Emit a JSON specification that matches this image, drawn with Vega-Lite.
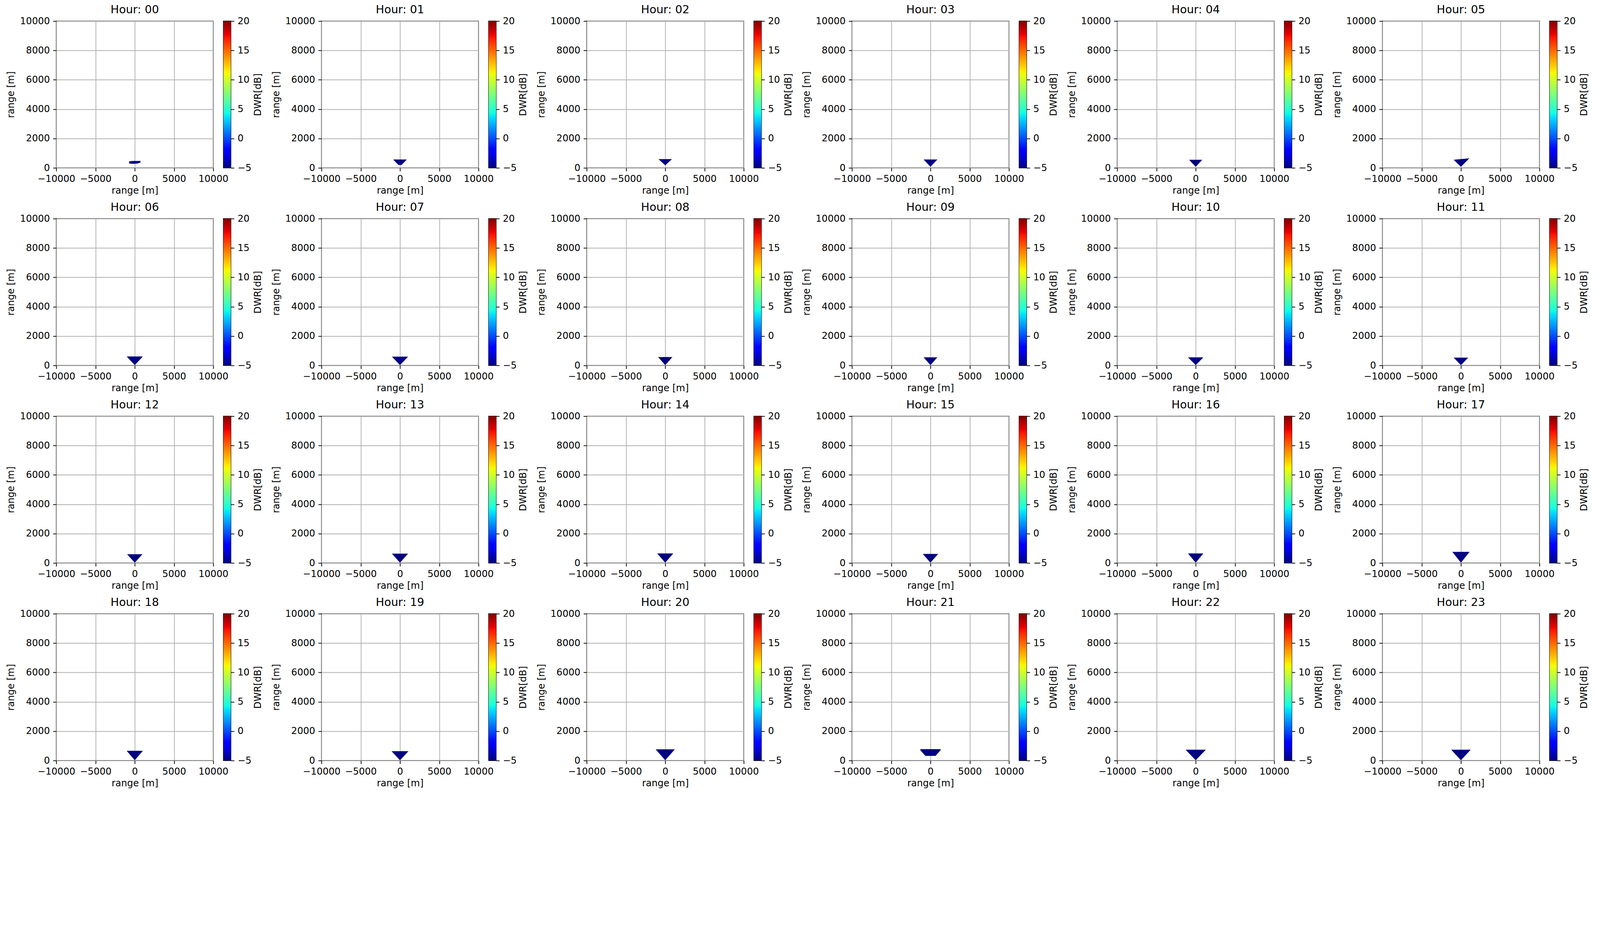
{
"$schema": "https://vega.github.io/schema/vega-lite/v6.json",
"background": "white",
"padding": {"left": 15, "top": 10, "right": 5, "bottom": 5},
"config": {
  "font": "DejaVu Sans",
  "view": {"stroke": "black", "strokeWidth": 1.9},
  "axis": {"labelFontSize": 24, "titleFontSize": 24, "labelColor": "black", "titleColor": "black", "titleFontWeight": "normal", "tickColor": "black", "tickWidth": 1.9, "tickSize": 8.4, "labelPadding": 8.4, "domain": false, "gridColor": "#b0b0b0", "gridWidth": 1.9, "gridOpacity": 1, "labelFlush": false, "labelOverlap": false, "zindex": 1},
  "title": {"fontSize": 28.7, "fontWeight": "normal", "color": "black", "offset": 2.3, "baseline": "alphabetic", "anchor": "middle", "frame": "group"}
},
"datasets": {
  "cbar": [{"lo": -5, "hi": 20}],
  "fans": [
    {"hour": "00", "x": -720, "top": 440, "bottom": 300, "dwr": -5},
    {"hour": "00", "x": -300, "top": 470, "bottom": 280, "dwr": -5},
    {"hour": "00", "x": 300, "top": 470, "bottom": 290, "dwr": -5},
    {"hour": "00", "x": 720, "top": 480, "bottom": 360, "dwr": -5},
    {"hour": "01", "x": -850, "top": 575, "bottom": 560, "dwr": -5},
    {"hour": "01", "x": -200, "top": 575, "bottom": 200, "dwr": -5},
    {"hour": "01", "x": 200, "top": 575, "bottom": 200, "dwr": -5},
    {"hour": "01", "x": 850, "top": 575, "bottom": 560, "dwr": -5},
    {"hour": "02", "x": -860, "top": 600, "bottom": 600, "dwr": -5},
    {"hour": "02", "x": 0, "top": 600, "bottom": 170, "dwr": -5},
    {"hour": "02", "x": 860, "top": 600, "bottom": 600, "dwr": -5},
    {"hour": "03", "x": -880, "top": 575, "bottom": 575, "dwr": -5},
    {"hour": "03", "x": 0, "top": 575, "bottom": 70, "dwr": -5},
    {"hour": "03", "x": 880, "top": 575, "bottom": 575, "dwr": -5},
    {"hour": "04", "x": -840, "top": 550, "bottom": 550, "dwr": -5},
    {"hour": "04", "x": 0, "top": 550, "bottom": 70, "dwr": -5},
    {"hour": "04", "x": 840, "top": 550, "bottom": 550, "dwr": -5},
    {"hour": "05", "x": -930, "top": 550, "bottom": 550, "dwr": -5},
    {"hour": "05", "x": 0, "top": 600, "bottom": 70, "dwr": -5},
    {"hour": "05", "x": 1070, "top": 650, "bottom": 650, "dwr": -5},
    {"hour": "06", "x": -1030, "top": 610, "bottom": 610, "dwr": -5},
    {"hour": "06", "x": 0, "top": 610, "bottom": 20, "dwr": -5},
    {"hour": "06", "x": 1030, "top": 610, "bottom": 610, "dwr": -5},
    {"hour": "07", "x": -1030, "top": 600, "bottom": 600, "dwr": -5},
    {"hour": "07", "x": 0, "top": 600, "bottom": 20, "dwr": -5},
    {"hour": "07", "x": 1030, "top": 600, "bottom": 600, "dwr": -5},
    {"hour": "08", "x": -910, "top": 575, "bottom": 575, "dwr": -5},
    {"hour": "08", "x": 0, "top": 575, "bottom": 20, "dwr": -5},
    {"hour": "08", "x": 910, "top": 575, "bottom": 575, "dwr": -5},
    {"hour": "09", "x": -880, "top": 550, "bottom": 550, "dwr": -5},
    {"hour": "09", "x": 0, "top": 550, "bottom": 20, "dwr": -5},
    {"hour": "09", "x": 880, "top": 550, "bottom": 550, "dwr": -5},
    {"hour": "10", "x": -980, "top": 550, "bottom": 550, "dwr": -5},
    {"hour": "10", "x": 0, "top": 550, "bottom": 20, "dwr": -5},
    {"hour": "10", "x": 980, "top": 550, "bottom": 550, "dwr": -5},
    {"hour": "11", "x": -930, "top": 530, "bottom": 530, "dwr": -5},
    {"hour": "11", "x": 0, "top": 530, "bottom": 20, "dwr": -5},
    {"hour": "11", "x": 930, "top": 530, "bottom": 530, "dwr": -5},
    {"hour": "12", "x": -980, "top": 600, "bottom": 600, "dwr": -5},
    {"hour": "12", "x": 0, "top": 600, "bottom": 20, "dwr": -5},
    {"hour": "12", "x": 980, "top": 600, "bottom": 600, "dwr": -5},
    {"hour": "13", "x": -1030, "top": 635, "bottom": 635, "dwr": -5},
    {"hour": "13", "x": 0, "top": 635, "bottom": 20, "dwr": -5},
    {"hour": "13", "x": 1030, "top": 635, "bottom": 635, "dwr": -5},
    {"hour": "14", "x": -1030, "top": 650, "bottom": 650, "dwr": -5},
    {"hour": "14", "x": 0, "top": 650, "bottom": 20, "dwr": -5},
    {"hour": "14", "x": 1030, "top": 650, "bottom": 650, "dwr": -5},
    {"hour": "15", "x": -980, "top": 620, "bottom": 620, "dwr": -5},
    {"hour": "15", "x": 0, "top": 620, "bottom": 20, "dwr": -5},
    {"hour": "15", "x": 980, "top": 620, "bottom": 620, "dwr": -5},
    {"hour": "16", "x": -980, "top": 650, "bottom": 650, "dwr": -5},
    {"hour": "16", "x": 0, "top": 650, "bottom": 20, "dwr": -5},
    {"hour": "16", "x": 980, "top": 650, "bottom": 650, "dwr": -5},
    {"hour": "17", "x": -1100, "top": 760, "bottom": 760, "dwr": -5},
    {"hour": "17", "x": 0, "top": 760, "bottom": 20, "dwr": -5},
    {"hour": "17", "x": 1100, "top": 760, "bottom": 760, "dwr": -5},
    {"hour": "18", "x": -1030, "top": 665, "bottom": 665, "dwr": -5},
    {"hour": "18", "x": 0, "top": 665, "bottom": 20, "dwr": -5},
    {"hour": "18", "x": 1030, "top": 665, "bottom": 665, "dwr": -5},
    {"hour": "19", "x": -1080, "top": 640, "bottom": 640, "dwr": -5},
    {"hour": "19", "x": 0, "top": 640, "bottom": 20, "dwr": -5},
    {"hour": "19", "x": 1080, "top": 640, "bottom": 640, "dwr": -5},
    {"hour": "20", "x": -1220, "top": 765, "bottom": 765, "dwr": -5},
    {"hour": "20", "x": 0, "top": 765, "bottom": 20, "dwr": -5},
    {"hour": "20", "x": 1220, "top": 765, "bottom": 765, "dwr": -5},
    {"hour": "21", "x": -1280, "top": 780, "bottom": 700, "dwr": -5},
    {"hour": "21", "x": -650, "top": 780, "bottom": 320, "dwr": -5},
    {"hour": "21", "x": 650, "top": 780, "bottom": 320, "dwr": -5},
    {"hour": "21", "x": 1280, "top": 780, "bottom": 700, "dwr": -5},
    {"hour": "22", "x": -1290, "top": 740, "bottom": 740, "dwr": -5},
    {"hour": "22", "x": 0, "top": 740, "bottom": 20, "dwr": -5},
    {"hour": "22", "x": 1290, "top": 740, "bottom": 740, "dwr": -5},
    {"hour": "23", "x": -1240, "top": 740, "bottom": 740, "dwr": -5},
    {"hour": "23", "x": 0, "top": 740, "bottom": 20, "dwr": -5},
    {"hour": "23", "x": 1240, "top": 740, "bottom": 740, "dwr": -5}
  ]
},
"columns": 6,
"spacing": {"row": 14, "column": 20},
"resolve": {"scale": {"x": "independent", "y": "independent"}},
"concat": [
{"bounds":"flush","spacing":26,"resolve":{"scale":{"x":"independent","y":"independent"}},"hconcat":[{"width":402,"height":376,"title":"Hour: 00","data":{"name":"fans"},"transform":[{"filter":"datum.hour === '00'"}],"mark":{"type":"area","orient":"vertical"},"encoding":{"x":{"field":"x","type":"quantitative","scale":{"domain":[-10000,10000],"nice":false},"axis":{"values":[-10000,-5000,0,5000,10000],"format":"d","title":"range [m]","titlePadding":6}},"y":{"field":"top","type":"quantitative","scale":{"domain":[0,10000],"nice":false},"axis":{"values":[0,2000,4000,6000,8000,10000],"format":"d","title":"range [m]","titlePadding":10}},"y2":{"field":"bottom"},"color":{"field":"dwr","type":"quantitative","scale":{"domain":[-5,-2.25,-1.875,3.5,3.75,4.375,11,11.25,11.5,17.25,17.75,20],"range":["#000080","#0000ff","#0000ff","#00dbff","#00e5f7","#15ffe2","#eeff08","#f7f500","#ffec00","#ff1300","#e80000","#800000"]},"legend":null}}},{"width":19,"height":376,"data":{"name":"cbar"},"mark":{"type":"rect","color":{"gradient":"linear","x1":0,"y1":1,"x2":0,"y2":0,"stops":[{"offset":0,"color":"#000080"},{"offset":0.11,"color":"#0000ff"},{"offset":0.125,"color":"#0000ff"},{"offset":0.34,"color":"#00dbff"},{"offset":0.35,"color":"#00e5f7"},{"offset":0.375,"color":"#15ffe2"},{"offset":0.64,"color":"#eeff08"},{"offset":0.65,"color":"#f7f500"},{"offset":0.66,"color":"#ffec00"},{"offset":0.89,"color":"#ff1300"},{"offset":0.91,"color":"#e80000"},{"offset":1,"color":"#800000"}]}},"encoding":{"x":{"datum":0,"type":"quantitative","scale":{"domain":[0,1],"nice":false},"axis":null},"x2":{"datum":1},"y":{"field":"lo","type":"quantitative","scale":{"domain":[-5,20],"nice":false,"zero":false},"axis":{"orient":"right","values":[-5,0,5,10,15,20],"format":"d","title":"DWR[dB]","titleAngle":270,"titleBaseline":"top","titlePadding":5,"grid":false}},"y2":{"field":"hi"}}}]},
{"bounds":"flush","spacing":26,"resolve":{"scale":{"x":"independent","y":"independent"}},"hconcat":[{"width":402,"height":376,"title":"Hour: 01","data":{"name":"fans"},"transform":[{"filter":"datum.hour === '01'"}],"mark":{"type":"area","orient":"vertical"},"encoding":{"x":{"field":"x","type":"quantitative","scale":{"domain":[-10000,10000],"nice":false},"axis":{"values":[-10000,-5000,0,5000,10000],"format":"d","title":"range [m]","titlePadding":6}},"y":{"field":"top","type":"quantitative","scale":{"domain":[0,10000],"nice":false},"axis":{"values":[0,2000,4000,6000,8000,10000],"format":"d","title":"range [m]","titlePadding":10}},"y2":{"field":"bottom"},"color":{"field":"dwr","type":"quantitative","scale":{"domain":[-5,-2.25,-1.875,3.5,3.75,4.375,11,11.25,11.5,17.25,17.75,20],"range":["#000080","#0000ff","#0000ff","#00dbff","#00e5f7","#15ffe2","#eeff08","#f7f500","#ffec00","#ff1300","#e80000","#800000"]},"legend":null}}},{"width":19,"height":376,"data":{"name":"cbar"},"mark":{"type":"rect","color":{"gradient":"linear","x1":0,"y1":1,"x2":0,"y2":0,"stops":[{"offset":0,"color":"#000080"},{"offset":0.11,"color":"#0000ff"},{"offset":0.125,"color":"#0000ff"},{"offset":0.34,"color":"#00dbff"},{"offset":0.35,"color":"#00e5f7"},{"offset":0.375,"color":"#15ffe2"},{"offset":0.64,"color":"#eeff08"},{"offset":0.65,"color":"#f7f500"},{"offset":0.66,"color":"#ffec00"},{"offset":0.89,"color":"#ff1300"},{"offset":0.91,"color":"#e80000"},{"offset":1,"color":"#800000"}]}},"encoding":{"x":{"datum":0,"type":"quantitative","scale":{"domain":[0,1],"nice":false},"axis":null},"x2":{"datum":1},"y":{"field":"lo","type":"quantitative","scale":{"domain":[-5,20],"nice":false,"zero":false},"axis":{"orient":"right","values":[-5,0,5,10,15,20],"format":"d","title":"DWR[dB]","titleAngle":270,"titleBaseline":"top","titlePadding":5,"grid":false}},"y2":{"field":"hi"}}}]},
{"bounds":"flush","spacing":26,"resolve":{"scale":{"x":"independent","y":"independent"}},"hconcat":[{"width":402,"height":376,"title":"Hour: 02","data":{"name":"fans"},"transform":[{"filter":"datum.hour === '02'"}],"mark":{"type":"area","orient":"vertical"},"encoding":{"x":{"field":"x","type":"quantitative","scale":{"domain":[-10000,10000],"nice":false},"axis":{"values":[-10000,-5000,0,5000,10000],"format":"d","title":"range [m]","titlePadding":6}},"y":{"field":"top","type":"quantitative","scale":{"domain":[0,10000],"nice":false},"axis":{"values":[0,2000,4000,6000,8000,10000],"format":"d","title":"range [m]","titlePadding":10}},"y2":{"field":"bottom"},"color":{"field":"dwr","type":"quantitative","scale":{"domain":[-5,-2.25,-1.875,3.5,3.75,4.375,11,11.25,11.5,17.25,17.75,20],"range":["#000080","#0000ff","#0000ff","#00dbff","#00e5f7","#15ffe2","#eeff08","#f7f500","#ffec00","#ff1300","#e80000","#800000"]},"legend":null}}},{"width":19,"height":376,"data":{"name":"cbar"},"mark":{"type":"rect","color":{"gradient":"linear","x1":0,"y1":1,"x2":0,"y2":0,"stops":[{"offset":0,"color":"#000080"},{"offset":0.11,"color":"#0000ff"},{"offset":0.125,"color":"#0000ff"},{"offset":0.34,"color":"#00dbff"},{"offset":0.35,"color":"#00e5f7"},{"offset":0.375,"color":"#15ffe2"},{"offset":0.64,"color":"#eeff08"},{"offset":0.65,"color":"#f7f500"},{"offset":0.66,"color":"#ffec00"},{"offset":0.89,"color":"#ff1300"},{"offset":0.91,"color":"#e80000"},{"offset":1,"color":"#800000"}]}},"encoding":{"x":{"datum":0,"type":"quantitative","scale":{"domain":[0,1],"nice":false},"axis":null},"x2":{"datum":1},"y":{"field":"lo","type":"quantitative","scale":{"domain":[-5,20],"nice":false,"zero":false},"axis":{"orient":"right","values":[-5,0,5,10,15,20],"format":"d","title":"DWR[dB]","titleAngle":270,"titleBaseline":"top","titlePadding":5,"grid":false}},"y2":{"field":"hi"}}}]},
{"bounds":"flush","spacing":26,"resolve":{"scale":{"x":"independent","y":"independent"}},"hconcat":[{"width":402,"height":376,"title":"Hour: 03","data":{"name":"fans"},"transform":[{"filter":"datum.hour === '03'"}],"mark":{"type":"area","orient":"vertical"},"encoding":{"x":{"field":"x","type":"quantitative","scale":{"domain":[-10000,10000],"nice":false},"axis":{"values":[-10000,-5000,0,5000,10000],"format":"d","title":"range [m]","titlePadding":6}},"y":{"field":"top","type":"quantitative","scale":{"domain":[0,10000],"nice":false},"axis":{"values":[0,2000,4000,6000,8000,10000],"format":"d","title":"range [m]","titlePadding":10}},"y2":{"field":"bottom"},"color":{"field":"dwr","type":"quantitative","scale":{"domain":[-5,-2.25,-1.875,3.5,3.75,4.375,11,11.25,11.5,17.25,17.75,20],"range":["#000080","#0000ff","#0000ff","#00dbff","#00e5f7","#15ffe2","#eeff08","#f7f500","#ffec00","#ff1300","#e80000","#800000"]},"legend":null}}},{"width":19,"height":376,"data":{"name":"cbar"},"mark":{"type":"rect","color":{"gradient":"linear","x1":0,"y1":1,"x2":0,"y2":0,"stops":[{"offset":0,"color":"#000080"},{"offset":0.11,"color":"#0000ff"},{"offset":0.125,"color":"#0000ff"},{"offset":0.34,"color":"#00dbff"},{"offset":0.35,"color":"#00e5f7"},{"offset":0.375,"color":"#15ffe2"},{"offset":0.64,"color":"#eeff08"},{"offset":0.65,"color":"#f7f500"},{"offset":0.66,"color":"#ffec00"},{"offset":0.89,"color":"#ff1300"},{"offset":0.91,"color":"#e80000"},{"offset":1,"color":"#800000"}]}},"encoding":{"x":{"datum":0,"type":"quantitative","scale":{"domain":[0,1],"nice":false},"axis":null},"x2":{"datum":1},"y":{"field":"lo","type":"quantitative","scale":{"domain":[-5,20],"nice":false,"zero":false},"axis":{"orient":"right","values":[-5,0,5,10,15,20],"format":"d","title":"DWR[dB]","titleAngle":270,"titleBaseline":"top","titlePadding":5,"grid":false}},"y2":{"field":"hi"}}}]},
{"bounds":"flush","spacing":26,"resolve":{"scale":{"x":"independent","y":"independent"}},"hconcat":[{"width":402,"height":376,"title":"Hour: 04","data":{"name":"fans"},"transform":[{"filter":"datum.hour === '04'"}],"mark":{"type":"area","orient":"vertical"},"encoding":{"x":{"field":"x","type":"quantitative","scale":{"domain":[-10000,10000],"nice":false},"axis":{"values":[-10000,-5000,0,5000,10000],"format":"d","title":"range [m]","titlePadding":6}},"y":{"field":"top","type":"quantitative","scale":{"domain":[0,10000],"nice":false},"axis":{"values":[0,2000,4000,6000,8000,10000],"format":"d","title":"range [m]","titlePadding":10}},"y2":{"field":"bottom"},"color":{"field":"dwr","type":"quantitative","scale":{"domain":[-5,-2.25,-1.875,3.5,3.75,4.375,11,11.25,11.5,17.25,17.75,20],"range":["#000080","#0000ff","#0000ff","#00dbff","#00e5f7","#15ffe2","#eeff08","#f7f500","#ffec00","#ff1300","#e80000","#800000"]},"legend":null}}},{"width":19,"height":376,"data":{"name":"cbar"},"mark":{"type":"rect","color":{"gradient":"linear","x1":0,"y1":1,"x2":0,"y2":0,"stops":[{"offset":0,"color":"#000080"},{"offset":0.11,"color":"#0000ff"},{"offset":0.125,"color":"#0000ff"},{"offset":0.34,"color":"#00dbff"},{"offset":0.35,"color":"#00e5f7"},{"offset":0.375,"color":"#15ffe2"},{"offset":0.64,"color":"#eeff08"},{"offset":0.65,"color":"#f7f500"},{"offset":0.66,"color":"#ffec00"},{"offset":0.89,"color":"#ff1300"},{"offset":0.91,"color":"#e80000"},{"offset":1,"color":"#800000"}]}},"encoding":{"x":{"datum":0,"type":"quantitative","scale":{"domain":[0,1],"nice":false},"axis":null},"x2":{"datum":1},"y":{"field":"lo","type":"quantitative","scale":{"domain":[-5,20],"nice":false,"zero":false},"axis":{"orient":"right","values":[-5,0,5,10,15,20],"format":"d","title":"DWR[dB]","titleAngle":270,"titleBaseline":"top","titlePadding":5,"grid":false}},"y2":{"field":"hi"}}}]},
{"bounds":"flush","spacing":26,"resolve":{"scale":{"x":"independent","y":"independent"}},"hconcat":[{"width":402,"height":376,"title":"Hour: 05","data":{"name":"fans"},"transform":[{"filter":"datum.hour === '05'"}],"mark":{"type":"area","orient":"vertical"},"encoding":{"x":{"field":"x","type":"quantitative","scale":{"domain":[-10000,10000],"nice":false},"axis":{"values":[-10000,-5000,0,5000,10000],"format":"d","title":"range [m]","titlePadding":6}},"y":{"field":"top","type":"quantitative","scale":{"domain":[0,10000],"nice":false},"axis":{"values":[0,2000,4000,6000,8000,10000],"format":"d","title":"range [m]","titlePadding":10}},"y2":{"field":"bottom"},"color":{"field":"dwr","type":"quantitative","scale":{"domain":[-5,-2.25,-1.875,3.5,3.75,4.375,11,11.25,11.5,17.25,17.75,20],"range":["#000080","#0000ff","#0000ff","#00dbff","#00e5f7","#15ffe2","#eeff08","#f7f500","#ffec00","#ff1300","#e80000","#800000"]},"legend":null}}},{"width":19,"height":376,"data":{"name":"cbar"},"mark":{"type":"rect","color":{"gradient":"linear","x1":0,"y1":1,"x2":0,"y2":0,"stops":[{"offset":0,"color":"#000080"},{"offset":0.11,"color":"#0000ff"},{"offset":0.125,"color":"#0000ff"},{"offset":0.34,"color":"#00dbff"},{"offset":0.35,"color":"#00e5f7"},{"offset":0.375,"color":"#15ffe2"},{"offset":0.64,"color":"#eeff08"},{"offset":0.65,"color":"#f7f500"},{"offset":0.66,"color":"#ffec00"},{"offset":0.89,"color":"#ff1300"},{"offset":0.91,"color":"#e80000"},{"offset":1,"color":"#800000"}]}},"encoding":{"x":{"datum":0,"type":"quantitative","scale":{"domain":[0,1],"nice":false},"axis":null},"x2":{"datum":1},"y":{"field":"lo","type":"quantitative","scale":{"domain":[-5,20],"nice":false,"zero":false},"axis":{"orient":"right","values":[-5,0,5,10,15,20],"format":"d","title":"DWR[dB]","titleAngle":270,"titleBaseline":"top","titlePadding":5,"grid":false}},"y2":{"field":"hi"}}}]},
{"bounds":"flush","spacing":26,"resolve":{"scale":{"x":"independent","y":"independent"}},"hconcat":[{"width":402,"height":376,"title":"Hour: 06","data":{"name":"fans"},"transform":[{"filter":"datum.hour === '06'"}],"mark":{"type":"area","orient":"vertical"},"encoding":{"x":{"field":"x","type":"quantitative","scale":{"domain":[-10000,10000],"nice":false},"axis":{"values":[-10000,-5000,0,5000,10000],"format":"d","title":"range [m]","titlePadding":6}},"y":{"field":"top","type":"quantitative","scale":{"domain":[0,10000],"nice":false},"axis":{"values":[0,2000,4000,6000,8000,10000],"format":"d","title":"range [m]","titlePadding":10}},"y2":{"field":"bottom"},"color":{"field":"dwr","type":"quantitative","scale":{"domain":[-5,-2.25,-1.875,3.5,3.75,4.375,11,11.25,11.5,17.25,17.75,20],"range":["#000080","#0000ff","#0000ff","#00dbff","#00e5f7","#15ffe2","#eeff08","#f7f500","#ffec00","#ff1300","#e80000","#800000"]},"legend":null}}},{"width":19,"height":376,"data":{"name":"cbar"},"mark":{"type":"rect","color":{"gradient":"linear","x1":0,"y1":1,"x2":0,"y2":0,"stops":[{"offset":0,"color":"#000080"},{"offset":0.11,"color":"#0000ff"},{"offset":0.125,"color":"#0000ff"},{"offset":0.34,"color":"#00dbff"},{"offset":0.35,"color":"#00e5f7"},{"offset":0.375,"color":"#15ffe2"},{"offset":0.64,"color":"#eeff08"},{"offset":0.65,"color":"#f7f500"},{"offset":0.66,"color":"#ffec00"},{"offset":0.89,"color":"#ff1300"},{"offset":0.91,"color":"#e80000"},{"offset":1,"color":"#800000"}]}},"encoding":{"x":{"datum":0,"type":"quantitative","scale":{"domain":[0,1],"nice":false},"axis":null},"x2":{"datum":1},"y":{"field":"lo","type":"quantitative","scale":{"domain":[-5,20],"nice":false,"zero":false},"axis":{"orient":"right","values":[-5,0,5,10,15,20],"format":"d","title":"DWR[dB]","titleAngle":270,"titleBaseline":"top","titlePadding":5,"grid":false}},"y2":{"field":"hi"}}}]},
{"bounds":"flush","spacing":26,"resolve":{"scale":{"x":"independent","y":"independent"}},"hconcat":[{"width":402,"height":376,"title":"Hour: 07","data":{"name":"fans"},"transform":[{"filter":"datum.hour === '07'"}],"mark":{"type":"area","orient":"vertical"},"encoding":{"x":{"field":"x","type":"quantitative","scale":{"domain":[-10000,10000],"nice":false},"axis":{"values":[-10000,-5000,0,5000,10000],"format":"d","title":"range [m]","titlePadding":6}},"y":{"field":"top","type":"quantitative","scale":{"domain":[0,10000],"nice":false},"axis":{"values":[0,2000,4000,6000,8000,10000],"format":"d","title":"range [m]","titlePadding":10}},"y2":{"field":"bottom"},"color":{"field":"dwr","type":"quantitative","scale":{"domain":[-5,-2.25,-1.875,3.5,3.75,4.375,11,11.25,11.5,17.25,17.75,20],"range":["#000080","#0000ff","#0000ff","#00dbff","#00e5f7","#15ffe2","#eeff08","#f7f500","#ffec00","#ff1300","#e80000","#800000"]},"legend":null}}},{"width":19,"height":376,"data":{"name":"cbar"},"mark":{"type":"rect","color":{"gradient":"linear","x1":0,"y1":1,"x2":0,"y2":0,"stops":[{"offset":0,"color":"#000080"},{"offset":0.11,"color":"#0000ff"},{"offset":0.125,"color":"#0000ff"},{"offset":0.34,"color":"#00dbff"},{"offset":0.35,"color":"#00e5f7"},{"offset":0.375,"color":"#15ffe2"},{"offset":0.64,"color":"#eeff08"},{"offset":0.65,"color":"#f7f500"},{"offset":0.66,"color":"#ffec00"},{"offset":0.89,"color":"#ff1300"},{"offset":0.91,"color":"#e80000"},{"offset":1,"color":"#800000"}]}},"encoding":{"x":{"datum":0,"type":"quantitative","scale":{"domain":[0,1],"nice":false},"axis":null},"x2":{"datum":1},"y":{"field":"lo","type":"quantitative","scale":{"domain":[-5,20],"nice":false,"zero":false},"axis":{"orient":"right","values":[-5,0,5,10,15,20],"format":"d","title":"DWR[dB]","titleAngle":270,"titleBaseline":"top","titlePadding":5,"grid":false}},"y2":{"field":"hi"}}}]},
{"bounds":"flush","spacing":26,"resolve":{"scale":{"x":"independent","y":"independent"}},"hconcat":[{"width":402,"height":376,"title":"Hour: 08","data":{"name":"fans"},"transform":[{"filter":"datum.hour === '08'"}],"mark":{"type":"area","orient":"vertical"},"encoding":{"x":{"field":"x","type":"quantitative","scale":{"domain":[-10000,10000],"nice":false},"axis":{"values":[-10000,-5000,0,5000,10000],"format":"d","title":"range [m]","titlePadding":6}},"y":{"field":"top","type":"quantitative","scale":{"domain":[0,10000],"nice":false},"axis":{"values":[0,2000,4000,6000,8000,10000],"format":"d","title":"range [m]","titlePadding":10}},"y2":{"field":"bottom"},"color":{"field":"dwr","type":"quantitative","scale":{"domain":[-5,-2.25,-1.875,3.5,3.75,4.375,11,11.25,11.5,17.25,17.75,20],"range":["#000080","#0000ff","#0000ff","#00dbff","#00e5f7","#15ffe2","#eeff08","#f7f500","#ffec00","#ff1300","#e80000","#800000"]},"legend":null}}},{"width":19,"height":376,"data":{"name":"cbar"},"mark":{"type":"rect","color":{"gradient":"linear","x1":0,"y1":1,"x2":0,"y2":0,"stops":[{"offset":0,"color":"#000080"},{"offset":0.11,"color":"#0000ff"},{"offset":0.125,"color":"#0000ff"},{"offset":0.34,"color":"#00dbff"},{"offset":0.35,"color":"#00e5f7"},{"offset":0.375,"color":"#15ffe2"},{"offset":0.64,"color":"#eeff08"},{"offset":0.65,"color":"#f7f500"},{"offset":0.66,"color":"#ffec00"},{"offset":0.89,"color":"#ff1300"},{"offset":0.91,"color":"#e80000"},{"offset":1,"color":"#800000"}]}},"encoding":{"x":{"datum":0,"type":"quantitative","scale":{"domain":[0,1],"nice":false},"axis":null},"x2":{"datum":1},"y":{"field":"lo","type":"quantitative","scale":{"domain":[-5,20],"nice":false,"zero":false},"axis":{"orient":"right","values":[-5,0,5,10,15,20],"format":"d","title":"DWR[dB]","titleAngle":270,"titleBaseline":"top","titlePadding":5,"grid":false}},"y2":{"field":"hi"}}}]},
{"bounds":"flush","spacing":26,"resolve":{"scale":{"x":"independent","y":"independent"}},"hconcat":[{"width":402,"height":376,"title":"Hour: 09","data":{"name":"fans"},"transform":[{"filter":"datum.hour === '09'"}],"mark":{"type":"area","orient":"vertical"},"encoding":{"x":{"field":"x","type":"quantitative","scale":{"domain":[-10000,10000],"nice":false},"axis":{"values":[-10000,-5000,0,5000,10000],"format":"d","title":"range [m]","titlePadding":6}},"y":{"field":"top","type":"quantitative","scale":{"domain":[0,10000],"nice":false},"axis":{"values":[0,2000,4000,6000,8000,10000],"format":"d","title":"range [m]","titlePadding":10}},"y2":{"field":"bottom"},"color":{"field":"dwr","type":"quantitative","scale":{"domain":[-5,-2.25,-1.875,3.5,3.75,4.375,11,11.25,11.5,17.25,17.75,20],"range":["#000080","#0000ff","#0000ff","#00dbff","#00e5f7","#15ffe2","#eeff08","#f7f500","#ffec00","#ff1300","#e80000","#800000"]},"legend":null}}},{"width":19,"height":376,"data":{"name":"cbar"},"mark":{"type":"rect","color":{"gradient":"linear","x1":0,"y1":1,"x2":0,"y2":0,"stops":[{"offset":0,"color":"#000080"},{"offset":0.11,"color":"#0000ff"},{"offset":0.125,"color":"#0000ff"},{"offset":0.34,"color":"#00dbff"},{"offset":0.35,"color":"#00e5f7"},{"offset":0.375,"color":"#15ffe2"},{"offset":0.64,"color":"#eeff08"},{"offset":0.65,"color":"#f7f500"},{"offset":0.66,"color":"#ffec00"},{"offset":0.89,"color":"#ff1300"},{"offset":0.91,"color":"#e80000"},{"offset":1,"color":"#800000"}]}},"encoding":{"x":{"datum":0,"type":"quantitative","scale":{"domain":[0,1],"nice":false},"axis":null},"x2":{"datum":1},"y":{"field":"lo","type":"quantitative","scale":{"domain":[-5,20],"nice":false,"zero":false},"axis":{"orient":"right","values":[-5,0,5,10,15,20],"format":"d","title":"DWR[dB]","titleAngle":270,"titleBaseline":"top","titlePadding":5,"grid":false}},"y2":{"field":"hi"}}}]},
{"bounds":"flush","spacing":26,"resolve":{"scale":{"x":"independent","y":"independent"}},"hconcat":[{"width":402,"height":376,"title":"Hour: 10","data":{"name":"fans"},"transform":[{"filter":"datum.hour === '10'"}],"mark":{"type":"area","orient":"vertical"},"encoding":{"x":{"field":"x","type":"quantitative","scale":{"domain":[-10000,10000],"nice":false},"axis":{"values":[-10000,-5000,0,5000,10000],"format":"d","title":"range [m]","titlePadding":6}},"y":{"field":"top","type":"quantitative","scale":{"domain":[0,10000],"nice":false},"axis":{"values":[0,2000,4000,6000,8000,10000],"format":"d","title":"range [m]","titlePadding":10}},"y2":{"field":"bottom"},"color":{"field":"dwr","type":"quantitative","scale":{"domain":[-5,-2.25,-1.875,3.5,3.75,4.375,11,11.25,11.5,17.25,17.75,20],"range":["#000080","#0000ff","#0000ff","#00dbff","#00e5f7","#15ffe2","#eeff08","#f7f500","#ffec00","#ff1300","#e80000","#800000"]},"legend":null}}},{"width":19,"height":376,"data":{"name":"cbar"},"mark":{"type":"rect","color":{"gradient":"linear","x1":0,"y1":1,"x2":0,"y2":0,"stops":[{"offset":0,"color":"#000080"},{"offset":0.11,"color":"#0000ff"},{"offset":0.125,"color":"#0000ff"},{"offset":0.34,"color":"#00dbff"},{"offset":0.35,"color":"#00e5f7"},{"offset":0.375,"color":"#15ffe2"},{"offset":0.64,"color":"#eeff08"},{"offset":0.65,"color":"#f7f500"},{"offset":0.66,"color":"#ffec00"},{"offset":0.89,"color":"#ff1300"},{"offset":0.91,"color":"#e80000"},{"offset":1,"color":"#800000"}]}},"encoding":{"x":{"datum":0,"type":"quantitative","scale":{"domain":[0,1],"nice":false},"axis":null},"x2":{"datum":1},"y":{"field":"lo","type":"quantitative","scale":{"domain":[-5,20],"nice":false,"zero":false},"axis":{"orient":"right","values":[-5,0,5,10,15,20],"format":"d","title":"DWR[dB]","titleAngle":270,"titleBaseline":"top","titlePadding":5,"grid":false}},"y2":{"field":"hi"}}}]},
{"bounds":"flush","spacing":26,"resolve":{"scale":{"x":"independent","y":"independent"}},"hconcat":[{"width":402,"height":376,"title":"Hour: 11","data":{"name":"fans"},"transform":[{"filter":"datum.hour === '11'"}],"mark":{"type":"area","orient":"vertical"},"encoding":{"x":{"field":"x","type":"quantitative","scale":{"domain":[-10000,10000],"nice":false},"axis":{"values":[-10000,-5000,0,5000,10000],"format":"d","title":"range [m]","titlePadding":6}},"y":{"field":"top","type":"quantitative","scale":{"domain":[0,10000],"nice":false},"axis":{"values":[0,2000,4000,6000,8000,10000],"format":"d","title":"range [m]","titlePadding":10}},"y2":{"field":"bottom"},"color":{"field":"dwr","type":"quantitative","scale":{"domain":[-5,-2.25,-1.875,3.5,3.75,4.375,11,11.25,11.5,17.25,17.75,20],"range":["#000080","#0000ff","#0000ff","#00dbff","#00e5f7","#15ffe2","#eeff08","#f7f500","#ffec00","#ff1300","#e80000","#800000"]},"legend":null}}},{"width":19,"height":376,"data":{"name":"cbar"},"mark":{"type":"rect","color":{"gradient":"linear","x1":0,"y1":1,"x2":0,"y2":0,"stops":[{"offset":0,"color":"#000080"},{"offset":0.11,"color":"#0000ff"},{"offset":0.125,"color":"#0000ff"},{"offset":0.34,"color":"#00dbff"},{"offset":0.35,"color":"#00e5f7"},{"offset":0.375,"color":"#15ffe2"},{"offset":0.64,"color":"#eeff08"},{"offset":0.65,"color":"#f7f500"},{"offset":0.66,"color":"#ffec00"},{"offset":0.89,"color":"#ff1300"},{"offset":0.91,"color":"#e80000"},{"offset":1,"color":"#800000"}]}},"encoding":{"x":{"datum":0,"type":"quantitative","scale":{"domain":[0,1],"nice":false},"axis":null},"x2":{"datum":1},"y":{"field":"lo","type":"quantitative","scale":{"domain":[-5,20],"nice":false,"zero":false},"axis":{"orient":"right","values":[-5,0,5,10,15,20],"format":"d","title":"DWR[dB]","titleAngle":270,"titleBaseline":"top","titlePadding":5,"grid":false}},"y2":{"field":"hi"}}}]},
{"bounds":"flush","spacing":26,"resolve":{"scale":{"x":"independent","y":"independent"}},"hconcat":[{"width":402,"height":376,"title":"Hour: 12","data":{"name":"fans"},"transform":[{"filter":"datum.hour === '12'"}],"mark":{"type":"area","orient":"vertical"},"encoding":{"x":{"field":"x","type":"quantitative","scale":{"domain":[-10000,10000],"nice":false},"axis":{"values":[-10000,-5000,0,5000,10000],"format":"d","title":"range [m]","titlePadding":6}},"y":{"field":"top","type":"quantitative","scale":{"domain":[0,10000],"nice":false},"axis":{"values":[0,2000,4000,6000,8000,10000],"format":"d","title":"range [m]","titlePadding":10}},"y2":{"field":"bottom"},"color":{"field":"dwr","type":"quantitative","scale":{"domain":[-5,-2.25,-1.875,3.5,3.75,4.375,11,11.25,11.5,17.25,17.75,20],"range":["#000080","#0000ff","#0000ff","#00dbff","#00e5f7","#15ffe2","#eeff08","#f7f500","#ffec00","#ff1300","#e80000","#800000"]},"legend":null}}},{"width":19,"height":376,"data":{"name":"cbar"},"mark":{"type":"rect","color":{"gradient":"linear","x1":0,"y1":1,"x2":0,"y2":0,"stops":[{"offset":0,"color":"#000080"},{"offset":0.11,"color":"#0000ff"},{"offset":0.125,"color":"#0000ff"},{"offset":0.34,"color":"#00dbff"},{"offset":0.35,"color":"#00e5f7"},{"offset":0.375,"color":"#15ffe2"},{"offset":0.64,"color":"#eeff08"},{"offset":0.65,"color":"#f7f500"},{"offset":0.66,"color":"#ffec00"},{"offset":0.89,"color":"#ff1300"},{"offset":0.91,"color":"#e80000"},{"offset":1,"color":"#800000"}]}},"encoding":{"x":{"datum":0,"type":"quantitative","scale":{"domain":[0,1],"nice":false},"axis":null},"x2":{"datum":1},"y":{"field":"lo","type":"quantitative","scale":{"domain":[-5,20],"nice":false,"zero":false},"axis":{"orient":"right","values":[-5,0,5,10,15,20],"format":"d","title":"DWR[dB]","titleAngle":270,"titleBaseline":"top","titlePadding":5,"grid":false}},"y2":{"field":"hi"}}}]},
{"bounds":"flush","spacing":26,"resolve":{"scale":{"x":"independent","y":"independent"}},"hconcat":[{"width":402,"height":376,"title":"Hour: 13","data":{"name":"fans"},"transform":[{"filter":"datum.hour === '13'"}],"mark":{"type":"area","orient":"vertical"},"encoding":{"x":{"field":"x","type":"quantitative","scale":{"domain":[-10000,10000],"nice":false},"axis":{"values":[-10000,-5000,0,5000,10000],"format":"d","title":"range [m]","titlePadding":6}},"y":{"field":"top","type":"quantitative","scale":{"domain":[0,10000],"nice":false},"axis":{"values":[0,2000,4000,6000,8000,10000],"format":"d","title":"range [m]","titlePadding":10}},"y2":{"field":"bottom"},"color":{"field":"dwr","type":"quantitative","scale":{"domain":[-5,-2.25,-1.875,3.5,3.75,4.375,11,11.25,11.5,17.25,17.75,20],"range":["#000080","#0000ff","#0000ff","#00dbff","#00e5f7","#15ffe2","#eeff08","#f7f500","#ffec00","#ff1300","#e80000","#800000"]},"legend":null}}},{"width":19,"height":376,"data":{"name":"cbar"},"mark":{"type":"rect","color":{"gradient":"linear","x1":0,"y1":1,"x2":0,"y2":0,"stops":[{"offset":0,"color":"#000080"},{"offset":0.11,"color":"#0000ff"},{"offset":0.125,"color":"#0000ff"},{"offset":0.34,"color":"#00dbff"},{"offset":0.35,"color":"#00e5f7"},{"offset":0.375,"color":"#15ffe2"},{"offset":0.64,"color":"#eeff08"},{"offset":0.65,"color":"#f7f500"},{"offset":0.66,"color":"#ffec00"},{"offset":0.89,"color":"#ff1300"},{"offset":0.91,"color":"#e80000"},{"offset":1,"color":"#800000"}]}},"encoding":{"x":{"datum":0,"type":"quantitative","scale":{"domain":[0,1],"nice":false},"axis":null},"x2":{"datum":1},"y":{"field":"lo","type":"quantitative","scale":{"domain":[-5,20],"nice":false,"zero":false},"axis":{"orient":"right","values":[-5,0,5,10,15,20],"format":"d","title":"DWR[dB]","titleAngle":270,"titleBaseline":"top","titlePadding":5,"grid":false}},"y2":{"field":"hi"}}}]},
{"bounds":"flush","spacing":26,"resolve":{"scale":{"x":"independent","y":"independent"}},"hconcat":[{"width":402,"height":376,"title":"Hour: 14","data":{"name":"fans"},"transform":[{"filter":"datum.hour === '14'"}],"mark":{"type":"area","orient":"vertical"},"encoding":{"x":{"field":"x","type":"quantitative","scale":{"domain":[-10000,10000],"nice":false},"axis":{"values":[-10000,-5000,0,5000,10000],"format":"d","title":"range [m]","titlePadding":6}},"y":{"field":"top","type":"quantitative","scale":{"domain":[0,10000],"nice":false},"axis":{"values":[0,2000,4000,6000,8000,10000],"format":"d","title":"range [m]","titlePadding":10}},"y2":{"field":"bottom"},"color":{"field":"dwr","type":"quantitative","scale":{"domain":[-5,-2.25,-1.875,3.5,3.75,4.375,11,11.25,11.5,17.25,17.75,20],"range":["#000080","#0000ff","#0000ff","#00dbff","#00e5f7","#15ffe2","#eeff08","#f7f500","#ffec00","#ff1300","#e80000","#800000"]},"legend":null}}},{"width":19,"height":376,"data":{"name":"cbar"},"mark":{"type":"rect","color":{"gradient":"linear","x1":0,"y1":1,"x2":0,"y2":0,"stops":[{"offset":0,"color":"#000080"},{"offset":0.11,"color":"#0000ff"},{"offset":0.125,"color":"#0000ff"},{"offset":0.34,"color":"#00dbff"},{"offset":0.35,"color":"#00e5f7"},{"offset":0.375,"color":"#15ffe2"},{"offset":0.64,"color":"#eeff08"},{"offset":0.65,"color":"#f7f500"},{"offset":0.66,"color":"#ffec00"},{"offset":0.89,"color":"#ff1300"},{"offset":0.91,"color":"#e80000"},{"offset":1,"color":"#800000"}]}},"encoding":{"x":{"datum":0,"type":"quantitative","scale":{"domain":[0,1],"nice":false},"axis":null},"x2":{"datum":1},"y":{"field":"lo","type":"quantitative","scale":{"domain":[-5,20],"nice":false,"zero":false},"axis":{"orient":"right","values":[-5,0,5,10,15,20],"format":"d","title":"DWR[dB]","titleAngle":270,"titleBaseline":"top","titlePadding":5,"grid":false}},"y2":{"field":"hi"}}}]},
{"bounds":"flush","spacing":26,"resolve":{"scale":{"x":"independent","y":"independent"}},"hconcat":[{"width":402,"height":376,"title":"Hour: 15","data":{"name":"fans"},"transform":[{"filter":"datum.hour === '15'"}],"mark":{"type":"area","orient":"vertical"},"encoding":{"x":{"field":"x","type":"quantitative","scale":{"domain":[-10000,10000],"nice":false},"axis":{"values":[-10000,-5000,0,5000,10000],"format":"d","title":"range [m]","titlePadding":6}},"y":{"field":"top","type":"quantitative","scale":{"domain":[0,10000],"nice":false},"axis":{"values":[0,2000,4000,6000,8000,10000],"format":"d","title":"range [m]","titlePadding":10}},"y2":{"field":"bottom"},"color":{"field":"dwr","type":"quantitative","scale":{"domain":[-5,-2.25,-1.875,3.5,3.75,4.375,11,11.25,11.5,17.25,17.75,20],"range":["#000080","#0000ff","#0000ff","#00dbff","#00e5f7","#15ffe2","#eeff08","#f7f500","#ffec00","#ff1300","#e80000","#800000"]},"legend":null}}},{"width":19,"height":376,"data":{"name":"cbar"},"mark":{"type":"rect","color":{"gradient":"linear","x1":0,"y1":1,"x2":0,"y2":0,"stops":[{"offset":0,"color":"#000080"},{"offset":0.11,"color":"#0000ff"},{"offset":0.125,"color":"#0000ff"},{"offset":0.34,"color":"#00dbff"},{"offset":0.35,"color":"#00e5f7"},{"offset":0.375,"color":"#15ffe2"},{"offset":0.64,"color":"#eeff08"},{"offset":0.65,"color":"#f7f500"},{"offset":0.66,"color":"#ffec00"},{"offset":0.89,"color":"#ff1300"},{"offset":0.91,"color":"#e80000"},{"offset":1,"color":"#800000"}]}},"encoding":{"x":{"datum":0,"type":"quantitative","scale":{"domain":[0,1],"nice":false},"axis":null},"x2":{"datum":1},"y":{"field":"lo","type":"quantitative","scale":{"domain":[-5,20],"nice":false,"zero":false},"axis":{"orient":"right","values":[-5,0,5,10,15,20],"format":"d","title":"DWR[dB]","titleAngle":270,"titleBaseline":"top","titlePadding":5,"grid":false}},"y2":{"field":"hi"}}}]},
{"bounds":"flush","spacing":26,"resolve":{"scale":{"x":"independent","y":"independent"}},"hconcat":[{"width":402,"height":376,"title":"Hour: 16","data":{"name":"fans"},"transform":[{"filter":"datum.hour === '16'"}],"mark":{"type":"area","orient":"vertical"},"encoding":{"x":{"field":"x","type":"quantitative","scale":{"domain":[-10000,10000],"nice":false},"axis":{"values":[-10000,-5000,0,5000,10000],"format":"d","title":"range [m]","titlePadding":6}},"y":{"field":"top","type":"quantitative","scale":{"domain":[0,10000],"nice":false},"axis":{"values":[0,2000,4000,6000,8000,10000],"format":"d","title":"range [m]","titlePadding":10}},"y2":{"field":"bottom"},"color":{"field":"dwr","type":"quantitative","scale":{"domain":[-5,-2.25,-1.875,3.5,3.75,4.375,11,11.25,11.5,17.25,17.75,20],"range":["#000080","#0000ff","#0000ff","#00dbff","#00e5f7","#15ffe2","#eeff08","#f7f500","#ffec00","#ff1300","#e80000","#800000"]},"legend":null}}},{"width":19,"height":376,"data":{"name":"cbar"},"mark":{"type":"rect","color":{"gradient":"linear","x1":0,"y1":1,"x2":0,"y2":0,"stops":[{"offset":0,"color":"#000080"},{"offset":0.11,"color":"#0000ff"},{"offset":0.125,"color":"#0000ff"},{"offset":0.34,"color":"#00dbff"},{"offset":0.35,"color":"#00e5f7"},{"offset":0.375,"color":"#15ffe2"},{"offset":0.64,"color":"#eeff08"},{"offset":0.65,"color":"#f7f500"},{"offset":0.66,"color":"#ffec00"},{"offset":0.89,"color":"#ff1300"},{"offset":0.91,"color":"#e80000"},{"offset":1,"color":"#800000"}]}},"encoding":{"x":{"datum":0,"type":"quantitative","scale":{"domain":[0,1],"nice":false},"axis":null},"x2":{"datum":1},"y":{"field":"lo","type":"quantitative","scale":{"domain":[-5,20],"nice":false,"zero":false},"axis":{"orient":"right","values":[-5,0,5,10,15,20],"format":"d","title":"DWR[dB]","titleAngle":270,"titleBaseline":"top","titlePadding":5,"grid":false}},"y2":{"field":"hi"}}}]},
{"bounds":"flush","spacing":26,"resolve":{"scale":{"x":"independent","y":"independent"}},"hconcat":[{"width":402,"height":376,"title":"Hour: 17","data":{"name":"fans"},"transform":[{"filter":"datum.hour === '17'"}],"mark":{"type":"area","orient":"vertical"},"encoding":{"x":{"field":"x","type":"quantitative","scale":{"domain":[-10000,10000],"nice":false},"axis":{"values":[-10000,-5000,0,5000,10000],"format":"d","title":"range [m]","titlePadding":6}},"y":{"field":"top","type":"quantitative","scale":{"domain":[0,10000],"nice":false},"axis":{"values":[0,2000,4000,6000,8000,10000],"format":"d","title":"range [m]","titlePadding":10}},"y2":{"field":"bottom"},"color":{"field":"dwr","type":"quantitative","scale":{"domain":[-5,-2.25,-1.875,3.5,3.75,4.375,11,11.25,11.5,17.25,17.75,20],"range":["#000080","#0000ff","#0000ff","#00dbff","#00e5f7","#15ffe2","#eeff08","#f7f500","#ffec00","#ff1300","#e80000","#800000"]},"legend":null}}},{"width":19,"height":376,"data":{"name":"cbar"},"mark":{"type":"rect","color":{"gradient":"linear","x1":0,"y1":1,"x2":0,"y2":0,"stops":[{"offset":0,"color":"#000080"},{"offset":0.11,"color":"#0000ff"},{"offset":0.125,"color":"#0000ff"},{"offset":0.34,"color":"#00dbff"},{"offset":0.35,"color":"#00e5f7"},{"offset":0.375,"color":"#15ffe2"},{"offset":0.64,"color":"#eeff08"},{"offset":0.65,"color":"#f7f500"},{"offset":0.66,"color":"#ffec00"},{"offset":0.89,"color":"#ff1300"},{"offset":0.91,"color":"#e80000"},{"offset":1,"color":"#800000"}]}},"encoding":{"x":{"datum":0,"type":"quantitative","scale":{"domain":[0,1],"nice":false},"axis":null},"x2":{"datum":1},"y":{"field":"lo","type":"quantitative","scale":{"domain":[-5,20],"nice":false,"zero":false},"axis":{"orient":"right","values":[-5,0,5,10,15,20],"format":"d","title":"DWR[dB]","titleAngle":270,"titleBaseline":"top","titlePadding":5,"grid":false}},"y2":{"field":"hi"}}}]},
{"bounds":"flush","spacing":26,"resolve":{"scale":{"x":"independent","y":"independent"}},"hconcat":[{"width":402,"height":376,"title":"Hour: 18","data":{"name":"fans"},"transform":[{"filter":"datum.hour === '18'"}],"mark":{"type":"area","orient":"vertical"},"encoding":{"x":{"field":"x","type":"quantitative","scale":{"domain":[-10000,10000],"nice":false},"axis":{"values":[-10000,-5000,0,5000,10000],"format":"d","title":"range [m]","titlePadding":6}},"y":{"field":"top","type":"quantitative","scale":{"domain":[0,10000],"nice":false},"axis":{"values":[0,2000,4000,6000,8000,10000],"format":"d","title":"range [m]","titlePadding":10}},"y2":{"field":"bottom"},"color":{"field":"dwr","type":"quantitative","scale":{"domain":[-5,-2.25,-1.875,3.5,3.75,4.375,11,11.25,11.5,17.25,17.75,20],"range":["#000080","#0000ff","#0000ff","#00dbff","#00e5f7","#15ffe2","#eeff08","#f7f500","#ffec00","#ff1300","#e80000","#800000"]},"legend":null}}},{"width":19,"height":376,"data":{"name":"cbar"},"mark":{"type":"rect","color":{"gradient":"linear","x1":0,"y1":1,"x2":0,"y2":0,"stops":[{"offset":0,"color":"#000080"},{"offset":0.11,"color":"#0000ff"},{"offset":0.125,"color":"#0000ff"},{"offset":0.34,"color":"#00dbff"},{"offset":0.35,"color":"#00e5f7"},{"offset":0.375,"color":"#15ffe2"},{"offset":0.64,"color":"#eeff08"},{"offset":0.65,"color":"#f7f500"},{"offset":0.66,"color":"#ffec00"},{"offset":0.89,"color":"#ff1300"},{"offset":0.91,"color":"#e80000"},{"offset":1,"color":"#800000"}]}},"encoding":{"x":{"datum":0,"type":"quantitative","scale":{"domain":[0,1],"nice":false},"axis":null},"x2":{"datum":1},"y":{"field":"lo","type":"quantitative","scale":{"domain":[-5,20],"nice":false,"zero":false},"axis":{"orient":"right","values":[-5,0,5,10,15,20],"format":"d","title":"DWR[dB]","titleAngle":270,"titleBaseline":"top","titlePadding":5,"grid":false}},"y2":{"field":"hi"}}}]},
{"bounds":"flush","spacing":26,"resolve":{"scale":{"x":"independent","y":"independent"}},"hconcat":[{"width":402,"height":376,"title":"Hour: 19","data":{"name":"fans"},"transform":[{"filter":"datum.hour === '19'"}],"mark":{"type":"area","orient":"vertical"},"encoding":{"x":{"field":"x","type":"quantitative","scale":{"domain":[-10000,10000],"nice":false},"axis":{"values":[-10000,-5000,0,5000,10000],"format":"d","title":"range [m]","titlePadding":6}},"y":{"field":"top","type":"quantitative","scale":{"domain":[0,10000],"nice":false},"axis":{"values":[0,2000,4000,6000,8000,10000],"format":"d","title":"range [m]","titlePadding":10}},"y2":{"field":"bottom"},"color":{"field":"dwr","type":"quantitative","scale":{"domain":[-5,-2.25,-1.875,3.5,3.75,4.375,11,11.25,11.5,17.25,17.75,20],"range":["#000080","#0000ff","#0000ff","#00dbff","#00e5f7","#15ffe2","#eeff08","#f7f500","#ffec00","#ff1300","#e80000","#800000"]},"legend":null}}},{"width":19,"height":376,"data":{"name":"cbar"},"mark":{"type":"rect","color":{"gradient":"linear","x1":0,"y1":1,"x2":0,"y2":0,"stops":[{"offset":0,"color":"#000080"},{"offset":0.11,"color":"#0000ff"},{"offset":0.125,"color":"#0000ff"},{"offset":0.34,"color":"#00dbff"},{"offset":0.35,"color":"#00e5f7"},{"offset":0.375,"color":"#15ffe2"},{"offset":0.64,"color":"#eeff08"},{"offset":0.65,"color":"#f7f500"},{"offset":0.66,"color":"#ffec00"},{"offset":0.89,"color":"#ff1300"},{"offset":0.91,"color":"#e80000"},{"offset":1,"color":"#800000"}]}},"encoding":{"x":{"datum":0,"type":"quantitative","scale":{"domain":[0,1],"nice":false},"axis":null},"x2":{"datum":1},"y":{"field":"lo","type":"quantitative","scale":{"domain":[-5,20],"nice":false,"zero":false},"axis":{"orient":"right","values":[-5,0,5,10,15,20],"format":"d","title":"DWR[dB]","titleAngle":270,"titleBaseline":"top","titlePadding":5,"grid":false}},"y2":{"field":"hi"}}}]},
{"bounds":"flush","spacing":26,"resolve":{"scale":{"x":"independent","y":"independent"}},"hconcat":[{"width":402,"height":376,"title":"Hour: 20","data":{"name":"fans"},"transform":[{"filter":"datum.hour === '20'"}],"mark":{"type":"area","orient":"vertical"},"encoding":{"x":{"field":"x","type":"quantitative","scale":{"domain":[-10000,10000],"nice":false},"axis":{"values":[-10000,-5000,0,5000,10000],"format":"d","title":"range [m]","titlePadding":6}},"y":{"field":"top","type":"quantitative","scale":{"domain":[0,10000],"nice":false},"axis":{"values":[0,2000,4000,6000,8000,10000],"format":"d","title":"range [m]","titlePadding":10}},"y2":{"field":"bottom"},"color":{"field":"dwr","type":"quantitative","scale":{"domain":[-5,-2.25,-1.875,3.5,3.75,4.375,11,11.25,11.5,17.25,17.75,20],"range":["#000080","#0000ff","#0000ff","#00dbff","#00e5f7","#15ffe2","#eeff08","#f7f500","#ffec00","#ff1300","#e80000","#800000"]},"legend":null}}},{"width":19,"height":376,"data":{"name":"cbar"},"mark":{"type":"rect","color":{"gradient":"linear","x1":0,"y1":1,"x2":0,"y2":0,"stops":[{"offset":0,"color":"#000080"},{"offset":0.11,"color":"#0000ff"},{"offset":0.125,"color":"#0000ff"},{"offset":0.34,"color":"#00dbff"},{"offset":0.35,"color":"#00e5f7"},{"offset":0.375,"color":"#15ffe2"},{"offset":0.64,"color":"#eeff08"},{"offset":0.65,"color":"#f7f500"},{"offset":0.66,"color":"#ffec00"},{"offset":0.89,"color":"#ff1300"},{"offset":0.91,"color":"#e80000"},{"offset":1,"color":"#800000"}]}},"encoding":{"x":{"datum":0,"type":"quantitative","scale":{"domain":[0,1],"nice":false},"axis":null},"x2":{"datum":1},"y":{"field":"lo","type":"quantitative","scale":{"domain":[-5,20],"nice":false,"zero":false},"axis":{"orient":"right","values":[-5,0,5,10,15,20],"format":"d","title":"DWR[dB]","titleAngle":270,"titleBaseline":"top","titlePadding":5,"grid":false}},"y2":{"field":"hi"}}}]},
{"bounds":"flush","spacing":26,"resolve":{"scale":{"x":"independent","y":"independent"}},"hconcat":[{"width":402,"height":376,"title":"Hour: 21","data":{"name":"fans"},"transform":[{"filter":"datum.hour === '21'"}],"mark":{"type":"area","orient":"vertical"},"encoding":{"x":{"field":"x","type":"quantitative","scale":{"domain":[-10000,10000],"nice":false},"axis":{"values":[-10000,-5000,0,5000,10000],"format":"d","title":"range [m]","titlePadding":6}},"y":{"field":"top","type":"quantitative","scale":{"domain":[0,10000],"nice":false},"axis":{"values":[0,2000,4000,6000,8000,10000],"format":"d","title":"range [m]","titlePadding":10}},"y2":{"field":"bottom"},"color":{"field":"dwr","type":"quantitative","scale":{"domain":[-5,-2.25,-1.875,3.5,3.75,4.375,11,11.25,11.5,17.25,17.75,20],"range":["#000080","#0000ff","#0000ff","#00dbff","#00e5f7","#15ffe2","#eeff08","#f7f500","#ffec00","#ff1300","#e80000","#800000"]},"legend":null}}},{"width":19,"height":376,"data":{"name":"cbar"},"mark":{"type":"rect","color":{"gradient":"linear","x1":0,"y1":1,"x2":0,"y2":0,"stops":[{"offset":0,"color":"#000080"},{"offset":0.11,"color":"#0000ff"},{"offset":0.125,"color":"#0000ff"},{"offset":0.34,"color":"#00dbff"},{"offset":0.35,"color":"#00e5f7"},{"offset":0.375,"color":"#15ffe2"},{"offset":0.64,"color":"#eeff08"},{"offset":0.65,"color":"#f7f500"},{"offset":0.66,"color":"#ffec00"},{"offset":0.89,"color":"#ff1300"},{"offset":0.91,"color":"#e80000"},{"offset":1,"color":"#800000"}]}},"encoding":{"x":{"datum":0,"type":"quantitative","scale":{"domain":[0,1],"nice":false},"axis":null},"x2":{"datum":1},"y":{"field":"lo","type":"quantitative","scale":{"domain":[-5,20],"nice":false,"zero":false},"axis":{"orient":"right","values":[-5,0,5,10,15,20],"format":"d","title":"DWR[dB]","titleAngle":270,"titleBaseline":"top","titlePadding":5,"grid":false}},"y2":{"field":"hi"}}}]},
{"bounds":"flush","spacing":26,"resolve":{"scale":{"x":"independent","y":"independent"}},"hconcat":[{"width":402,"height":376,"title":"Hour: 22","data":{"name":"fans"},"transform":[{"filter":"datum.hour === '22'"}],"mark":{"type":"area","orient":"vertical"},"encoding":{"x":{"field":"x","type":"quantitative","scale":{"domain":[-10000,10000],"nice":false},"axis":{"values":[-10000,-5000,0,5000,10000],"format":"d","title":"range [m]","titlePadding":6}},"y":{"field":"top","type":"quantitative","scale":{"domain":[0,10000],"nice":false},"axis":{"values":[0,2000,4000,6000,8000,10000],"format":"d","title":"range [m]","titlePadding":10}},"y2":{"field":"bottom"},"color":{"field":"dwr","type":"quantitative","scale":{"domain":[-5,-2.25,-1.875,3.5,3.75,4.375,11,11.25,11.5,17.25,17.75,20],"range":["#000080","#0000ff","#0000ff","#00dbff","#00e5f7","#15ffe2","#eeff08","#f7f500","#ffec00","#ff1300","#e80000","#800000"]},"legend":null}}},{"width":19,"height":376,"data":{"name":"cbar"},"mark":{"type":"rect","color":{"gradient":"linear","x1":0,"y1":1,"x2":0,"y2":0,"stops":[{"offset":0,"color":"#000080"},{"offset":0.11,"color":"#0000ff"},{"offset":0.125,"color":"#0000ff"},{"offset":0.34,"color":"#00dbff"},{"offset":0.35,"color":"#00e5f7"},{"offset":0.375,"color":"#15ffe2"},{"offset":0.64,"color":"#eeff08"},{"offset":0.65,"color":"#f7f500"},{"offset":0.66,"color":"#ffec00"},{"offset":0.89,"color":"#ff1300"},{"offset":0.91,"color":"#e80000"},{"offset":1,"color":"#800000"}]}},"encoding":{"x":{"datum":0,"type":"quantitative","scale":{"domain":[0,1],"nice":false},"axis":null},"x2":{"datum":1},"y":{"field":"lo","type":"quantitative","scale":{"domain":[-5,20],"nice":false,"zero":false},"axis":{"orient":"right","values":[-5,0,5,10,15,20],"format":"d","title":"DWR[dB]","titleAngle":270,"titleBaseline":"top","titlePadding":5,"grid":false}},"y2":{"field":"hi"}}}]},
{"bounds":"flush","spacing":26,"resolve":{"scale":{"x":"independent","y":"independent"}},"hconcat":[{"width":402,"height":376,"title":"Hour: 23","data":{"name":"fans"},"transform":[{"filter":"datum.hour === '23'"}],"mark":{"type":"area","orient":"vertical"},"encoding":{"x":{"field":"x","type":"quantitative","scale":{"domain":[-10000,10000],"nice":false},"axis":{"values":[-10000,-5000,0,5000,10000],"format":"d","title":"range [m]","titlePadding":6}},"y":{"field":"top","type":"quantitative","scale":{"domain":[0,10000],"nice":false},"axis":{"values":[0,2000,4000,6000,8000,10000],"format":"d","title":"range [m]","titlePadding":10}},"y2":{"field":"bottom"},"color":{"field":"dwr","type":"quantitative","scale":{"domain":[-5,-2.25,-1.875,3.5,3.75,4.375,11,11.25,11.5,17.25,17.75,20],"range":["#000080","#0000ff","#0000ff","#00dbff","#00e5f7","#15ffe2","#eeff08","#f7f500","#ffec00","#ff1300","#e80000","#800000"]},"legend":null}}},{"width":19,"height":376,"data":{"name":"cbar"},"mark":{"type":"rect","color":{"gradient":"linear","x1":0,"y1":1,"x2":0,"y2":0,"stops":[{"offset":0,"color":"#000080"},{"offset":0.11,"color":"#0000ff"},{"offset":0.125,"color":"#0000ff"},{"offset":0.34,"color":"#00dbff"},{"offset":0.35,"color":"#00e5f7"},{"offset":0.375,"color":"#15ffe2"},{"offset":0.64,"color":"#eeff08"},{"offset":0.65,"color":"#f7f500"},{"offset":0.66,"color":"#ffec00"},{"offset":0.89,"color":"#ff1300"},{"offset":0.91,"color":"#e80000"},{"offset":1,"color":"#800000"}]}},"encoding":{"x":{"datum":0,"type":"quantitative","scale":{"domain":[0,1],"nice":false},"axis":null},"x2":{"datum":1},"y":{"field":"lo","type":"quantitative","scale":{"domain":[-5,20],"nice":false,"zero":false},"axis":{"orient":"right","values":[-5,0,5,10,15,20],"format":"d","title":"DWR[dB]","titleAngle":270,"titleBaseline":"top","titlePadding":5,"grid":false}},"y2":{"field":"hi"}}}]}
]
}
